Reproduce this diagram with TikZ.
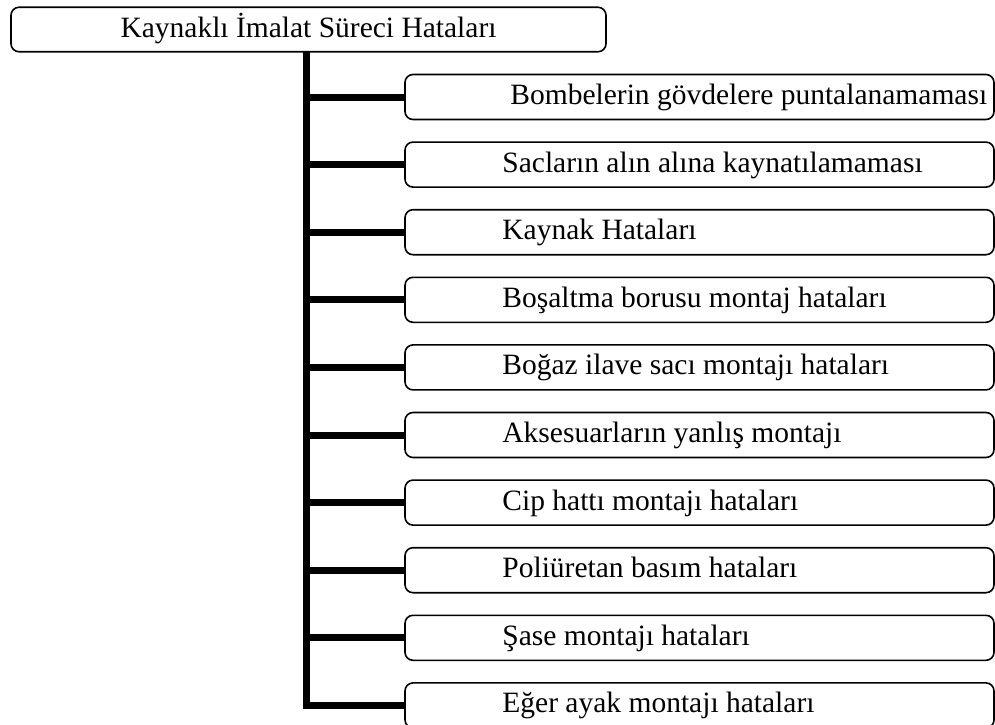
\documentclass[tikz,border=0pt]{standalone}
\usepackage{fontspec}
\setmainfont{Liberation Serif}
\begin{document}
\begin{tikzpicture}[x=1pt,y=-1pt,
  every node/.style={font=\fontsize{29.5}{35}\selectfont},
  box/.style={draw, line width=1.6pt, rounded corners=8pt, inner sep=0pt},
  topbox/.style={box, minimum width=595pt, minimum height=44.5pt},
  itembox/.style={box, minimum width=589pt, minimum height=45pt},
  itemtext/.style={anchor=base west, inner sep=0pt},
  bar/.style={line width=7pt}]
\useasboundingbox (0,0) rectangle (995,724);

% root box
\node[topbox] (top) at (308.5,29.5) {};
\node[inner sep=0pt, anchor=base] (toptext) at ([yshift=-7.5pt]top.center)
  {Kaynaklı İmalat Süreci Hataları};

% branch boxes with their labels
\foreach \dx/\txt [count=\i] in {
  106/Bombelerin gövdelere puntalanamaması,
  98/Sacların alın alına kaynatılamaması,
  98/Kaynak Hataları,
  98/Boşaltma borusu montaj hataları,
  98/Boğaz ilave sacı montajı hataları,
  98/Aksesuarların yanlış montajı,
  98/Cip hattı montajı hataları,
  98/Poliüretan basım hataları,
  98/Şase montajı hataları,
  98/Eğer ayak montajı hataları} {
  \node[itembox] (c\i) at (699.5, {97+(\i-1)*67.6}) {};
  \node[itemtext] (t\i) at ([xshift=\dx pt, yshift=-7.5pt]c\i.west) {\txt};
}

% trunk and branches
\coordinate (trunk) at (306,51.5);
\draw[bar] (trunk) |- (c10.west);
\foreach \i in {1,...,9}
  \draw[bar] (trunk |- c\i.west) -- (c\i.west);
\end{tikzpicture}
\end{document}
